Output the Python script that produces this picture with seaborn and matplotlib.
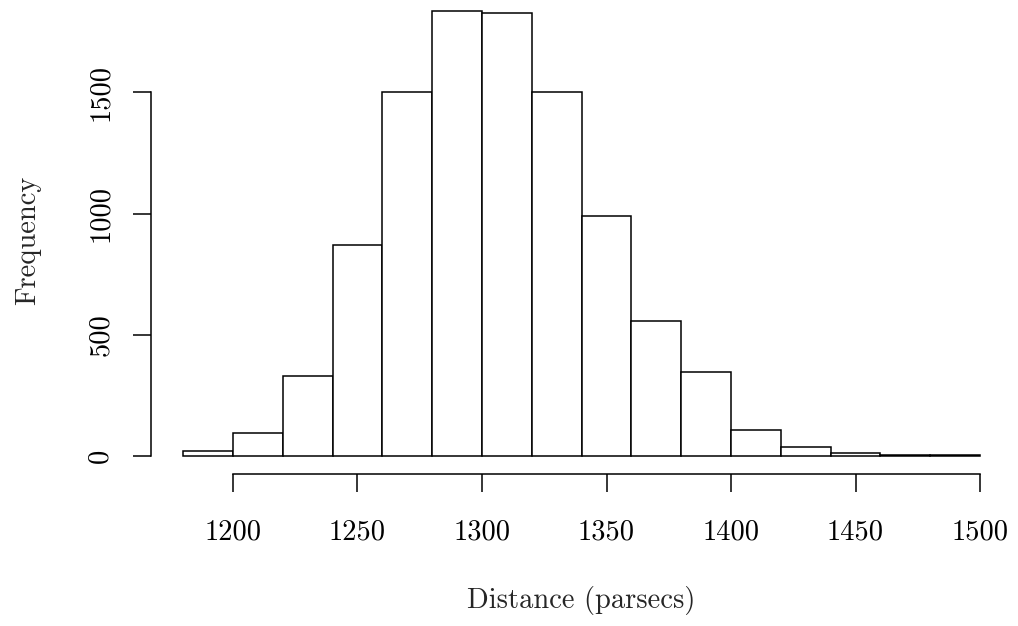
import numpy as np
import pandas as pd
import matplotlib
matplotlib.use("Agg")
import matplotlib.pyplot as plt
import seaborn as sns

# Histogram of simulated distances: 20-parsec bins from 1180 to 1500
bin_edges = [1180, 1200, 1220, 1240, 1260, 1280, 1300, 1320, 1340,
             1360, 1380, 1400, 1420, 1440, 1460, 1480, 1500]
counts = [21, 92, 329, 871, 1500, 1837, 1828, 1500, 991, 557, 344,
          106, 35, 10, 2, 3]
x_ticks = [1200, 1250, 1300, 1350, 1400, 1450, 1500]
y_ticks = [0, 500, 1000, 1500]

edges = np.array(bin_edges, dtype=float)
df = pd.DataFrame({
    "distance": (edges[:-1] + edges[1:]) / 2,
    "count": counts,
})

sns.set_style("ticks")
plt.rcParams["font.family"] = ["cmr10", "DejaVu Serif"]
plt.rcParams["axes.formatter.use_mathtext"] = True
plt.rcParams["axes.unicode_minus"] = False

fig = plt.figure(figsize=(10.18, 6.26), dpi=100)
ax = fig.add_axes([0.14863, 0.24361, 0.84538, 0.76757])

sns.histplot(data=df, x="distance", weights="count", bins=list(bin_edges),
             stat="count", color="white", edgecolor="black",
             linewidth=1.1, alpha=1, ax=ax)

# R-style axis extents: 4% padding around data range
xr = edges[-1] - edges[0]
ax.set_xlim(edges[0] - 0.04 * xr, edges[-1] + 0.04 * xr)
ymax = max(counts)
ax.set_ylim(-0.04 * ymax, 1.04 * ymax)

ax.set_xticks(x_ticks)
ax.set_yticks(y_ticks)
ax.set_xticklabels([str(v) for v in x_ticks])
ax.set_yticklabels([str(v) for v in y_ticks], rotation=90, va="center")

for side in ("top", "right"):
    ax.spines[side].set_visible(False)
ax.spines["left"].set_bounds(y_ticks[0], y_ticks[-1])
ax.spines["bottom"].set_bounds(x_ticks[0], x_ticks[-1])
for side in ("left", "bottom"):
    ax.spines[side].set_linewidth(1.1)
    ax.spines[side].set_color("black")

ax.tick_params(axis="both", direction="out", length=13, width=1.1,
               colors="black", labelsize=20.5)
ax.tick_params(axis="x", pad=20)
ax.tick_params(axis="y", pad=14)

ax.set_xlabel("Distance (parsecs)", fontsize=20.5, va="center")
ax.set_ylabel("Frequency", fontsize=20.5, va="center")
ax.xaxis.set_label_coords(0.5, -0.265)
ax.yaxis.set_label_coords(-0.1433, 0.485)

fig.savefig("out.png", dpi=100, facecolor="white")
